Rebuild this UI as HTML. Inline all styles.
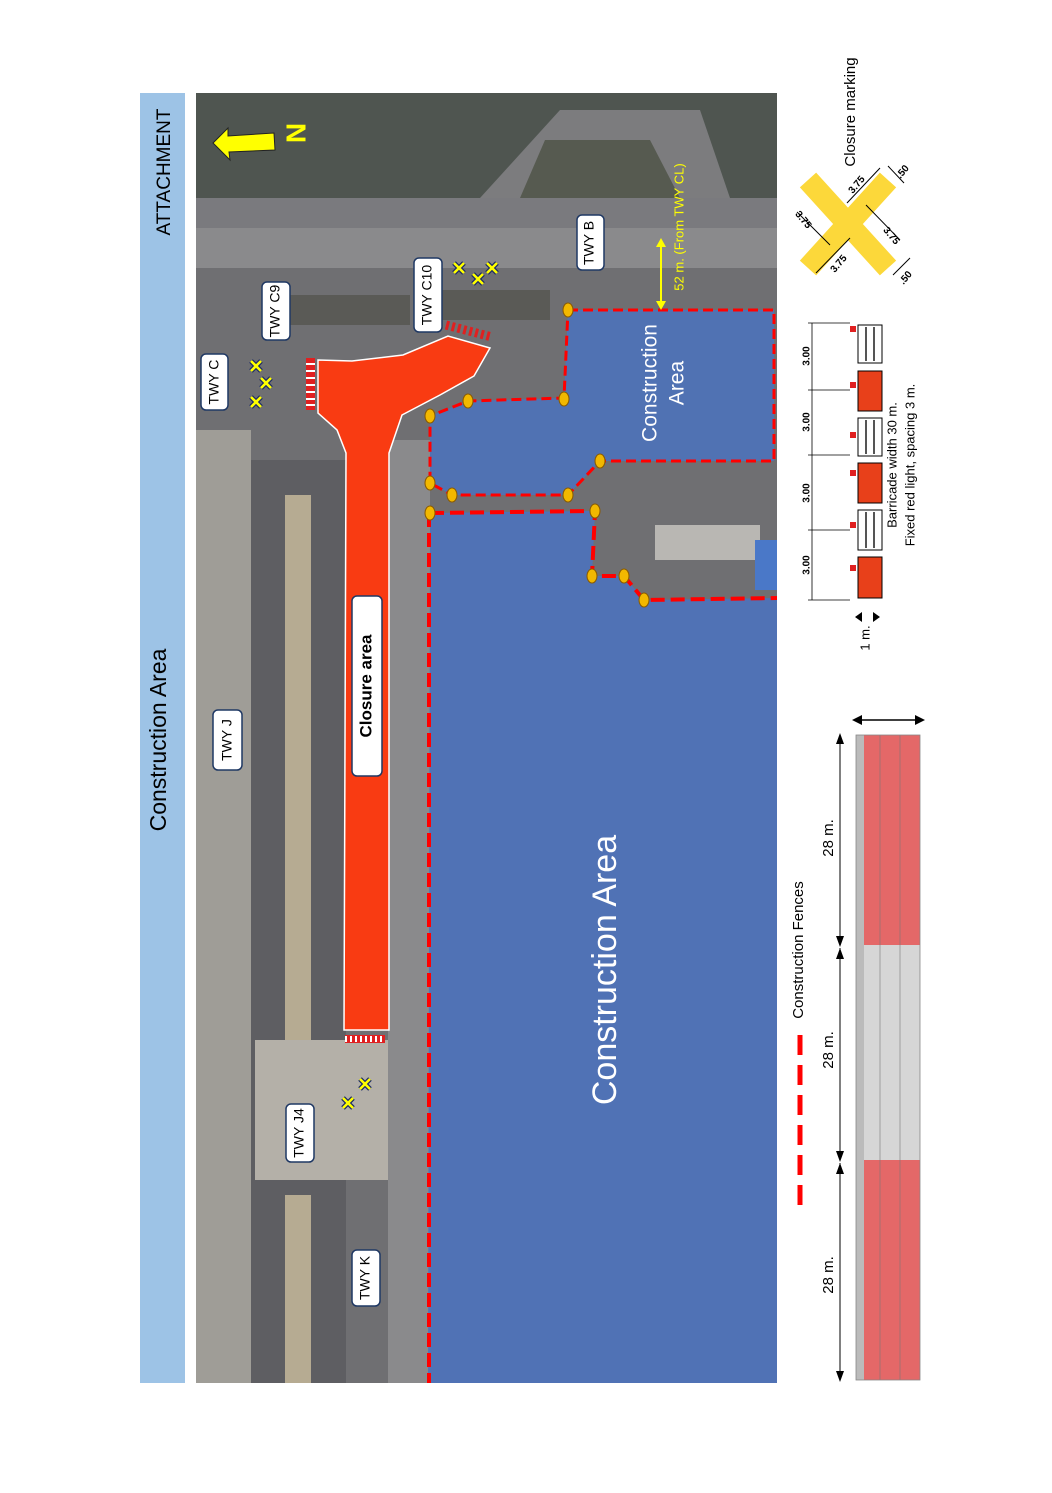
<!DOCTYPE html>
<html><head><meta charset="utf-8"><style>
html,body{margin:0;padding:0;background:#fff;}
svg{display:block;font-family:"Liberation Sans",sans-serif;}
</style></head><body>
<svg width="1052" height="1493" viewBox="0 0 1052 1493" xmlns="http://www.w3.org/2000/svg">
<defs>
<g id="xm"><path d="M-5 -5 L5 5 M5 -5 L-5 5" stroke="#1a2a6a" stroke-width="5"/><path d="M-5 -5 L5 5 M5 -5 L-5 5" stroke="#ffff00" stroke-width="2.6"/></g>
</defs>
<rect width="1052" height="1493" fill="#fff"/>
<rect x="140" y="93" width="45" height="1290" fill="#9dc3e6"/>
<text transform="rotate(-90 165 172)" x="165" y="172" text-anchor="middle" dominant-baseline="middle" font-size="19" fill="#000">ATTACHMENT</text>
<text transform="rotate(-90 160 740)" x="160" y="740" text-anchor="middle" dominant-baseline="middle" font-size="23" fill="#000">Construction Area</text>

<rect x="196" y="93" width="581" height="1290" fill="#6f6f72"/>
<rect x="196" y="93" width="581" height="105" fill="#4f5550"/>
<rect x="196" y="198" width="581" height="30" fill="#7a7a7e"/>
<rect x="196" y="228" width="581" height="40" fill="#8a8a8c"/>
<path d="M480 198 L560 110 L700 110 L730 198 Z" fill="#7c7c7e"/>
<path d="M520 198 L545 140 L650 140 L680 198 Z" fill="#565a50"/>
<rect x="196" y="430" width="55" height="953" fill="#9f9d97"/>
<rect x="251" y="460" width="95" height="923" fill="#5e5e62"/>
<rect x="285" y="495" width="26" height="545" fill="#b6ab92"/>
<rect x="285" y="1195" width="26" height="188" fill="#b6ab92"/>
<rect x="255" y="1040" width="170" height="140" fill="#b4b0a8"/>
<rect x="388" y="440" width="42" height="943" fill="#8a8a8c"/>
<rect x="440" y="290" width="110" height="30" fill="#5a5a56"/>
<rect x="290" y="295" width="120" height="30" fill="#5a5a56"/>
<rect x="655" y="525" width="105" height="35" fill="#b9b7b3"/>
<rect x="755" y="540" width="22" height="50" fill="#4a78c8"/>

<path d="M430 513 L595 511 L592 576 L624 576 L644 600 L777 598 L777 1383 L428 1383 Z" fill="#4d72ba" fill-opacity="0.93"/>
<path d="M430 513 L595 511 L592 576 L624 576 L644 600 L777 598" fill="none" stroke="#ff0000" stroke-width="4" stroke-dasharray="14 6"/>
<path d="M429 513 L429 1383" fill="none" stroke="#ff0000" stroke-width="4" stroke-dasharray="14 6"/>
<path d="M568 310 L774 310 L774 461 L600 461 L568 495 L452 495 L430 483 L430 416 L468 401 L564 398 Z" fill="#4d72ba" fill-opacity="0.9" stroke="#ff0000" stroke-width="3" stroke-dasharray="10 5"/>
<g fill="#f2b800" stroke="#8a5a00" stroke-width="1">
<ellipse cx="568" cy="310" rx="5" ry="7"/><ellipse cx="564" cy="399" rx="5" ry="7"/><ellipse cx="468" cy="401" rx="5" ry="7"/><ellipse cx="430" cy="416" rx="5" ry="7"/><ellipse cx="430" cy="483" rx="5" ry="7"/><ellipse cx="452" cy="495" rx="5" ry="7"/><ellipse cx="568" cy="495" rx="5" ry="7"/><ellipse cx="600" cy="461" rx="5" ry="7"/><ellipse cx="430" cy="513" rx="5" ry="7"/><ellipse cx="595" cy="511" rx="5" ry="7"/><ellipse cx="592" cy="576" rx="5" ry="7"/><ellipse cx="624" cy="576" rx="5" ry="7"/><ellipse cx="644" cy="600" rx="5" ry="7"/>
</g>

<path d="M318 360 L352 361 L403 355 L448 336 L490 348 L474 376 L440 395 L402 415 L389 453 L389 1030 L344 1030 L346 453 L337 430 L318 413 Z" fill="#f93b12" stroke="#fff" stroke-width="1.5"/>
<rect x="306" y="358" width="9" height="52" fill="#e02020"/>
<g stroke="#fff" stroke-width="2"><line x1="306" y1="364" x2="315" y2="364"/><line x1="306" y1="371" x2="315" y2="371"/><line x1="306" y1="378" x2="315" y2="378"/><line x1="306" y1="385" x2="315" y2="385"/><line x1="306" y1="392" x2="315" y2="392"/><line x1="306" y1="399" x2="315" y2="399"/><line x1="306" y1="405" x2="315" y2="405"/></g>
<line x1="446" y1="325" x2="492" y2="337" stroke="#e02020" stroke-width="9" stroke-dasharray="3 3"/>
<rect x="345" y="1035" width="40" height="8" fill="#e02020"/>
<line x1="345" y1="1039" x2="385" y2="1039" stroke="#fff" stroke-width="6" stroke-dasharray="2 3"/>

<use href="#xm" x="256" y="366"/><use href="#xm" x="266" y="383"/><use href="#xm" x="256" y="402"/>
<use href="#xm" x="459" y="268"/><use href="#xm" x="478" y="279"/><use href="#xm" x="492" y="268"/>
<use href="#xm" x="365" y="1084"/><use href="#xm" x="348" y="1103"/>

<path d="M213 143 L228 128 L228 136 L274 133 L275 150 L229 152 L230 160 Z" fill="#ffff00" stroke="#222" stroke-width="1"/>
<text transform="rotate(-90 298 133)" x="298" y="133" text-anchor="middle" dominant-baseline="middle" font-size="28" font-weight="bold" fill="#ffff00">N</text>

<g font-size="14" text-anchor="middle" dominant-baseline="middle" fill="#000">
<rect x="201" y="354" width="27" height="56" rx="5" fill="#fff" stroke="#1f3864" stroke-width="1.5"/>
<text transform="rotate(-90 215 382)" x="215" y="382">TWY C</text>
<rect x="262" y="282" width="28" height="58" rx="5" fill="#fff" stroke="#1f3864" stroke-width="1.5"/>
<text transform="rotate(-90 276 311)" x="276" y="311">TWY C9</text>
<rect x="414" y="258" width="28" height="74" rx="5" fill="#fff" stroke="#1f3864" stroke-width="1.5"/>
<text transform="rotate(-90 428 295)" x="428" y="295">TWY C10</text>
<rect x="577" y="215" width="27" height="55" rx="5" fill="#fff" stroke="#1f3864" stroke-width="1.5"/>
<text transform="rotate(-90 590 243)" x="590" y="243">TWY B</text>
<rect x="213" y="710" width="29" height="60" rx="5" fill="#fff" stroke="#1f3864" stroke-width="1.5"/>
<text transform="rotate(-90 228 740)" x="228" y="740">TWY J</text>
<rect x="286" y="1104" width="28" height="58" rx="5" fill="#fff" stroke="#1f3864" stroke-width="1.5"/>
<text transform="rotate(-90 300 1133)" x="300" y="1133">TWY J4</text>
<rect x="352" y="1250" width="28" height="56" rx="5" fill="#fff" stroke="#1f3864" stroke-width="1.5"/>
<text transform="rotate(-90 366 1278)" x="366" y="1278">TWY K</text>
<rect x="352" y="596" width="30" height="180" rx="5" fill="#fff" stroke="#1f3864" stroke-width="1.5"/>
<text transform="rotate(-90 367 686)" x="367" y="686" font-weight="bold" font-size="17">Closure area</text>
</g>
<text transform="rotate(-90 607 970)" x="607" y="970" text-anchor="middle" dominant-baseline="middle" font-size="34" fill="#fff">Construction Area</text>
<text transform="rotate(-90 651 383)" x="651" y="383" text-anchor="middle" dominant-baseline="middle" font-size="21" fill="#fff">Construction</text>
<text transform="rotate(-90 678 383)" x="678" y="383" text-anchor="middle" dominant-baseline="middle" font-size="21" fill="#fff">Area</text>
<line x1="661" y1="243" x2="661" y2="305" stroke="#ffff00" stroke-width="2"/>
<path d="M656 247 L661 238 L666 247 Z M656 301 L661 310 L666 301 Z" fill="#ffff00"/>
<text transform="rotate(-90 680 227)" x="680" y="227" text-anchor="middle" dominant-baseline="middle" font-size="13" fill="#ffff00">52 m. (From TWY CL)</text>

<text transform="rotate(-90 851 112)" x="851" y="112" text-anchor="middle" dominant-baseline="middle" font-size="15">Closure marking</text>
<path d="M808 180 L888 268 M888 180 L808 268" stroke="#fcd83a" stroke-width="22"/>
<g font-size="10" font-weight="bold" text-anchor="middle" dominant-baseline="middle">
<text transform="rotate(-50 857 185)" x="857" y="185">3.75</text>
<text transform="rotate(-50 839 264)" x="839" y="264">3.75</text>
<text transform="rotate(50 803 220)" x="803" y="220">3.75</text>
<text transform="rotate(50 891 236)" x="891" y="236">3.75</text>
<text transform="rotate(-50 903 172)" x="903" y="172">.50</text>
<text transform="rotate(-50 906 278)" x="906" y="278">.50</text>
</g>
<g stroke="#000" stroke-width="1" fill="none">
<line x1="847" y1="203" x2="880" y2="168"/><line x1="816" y1="273" x2="850" y2="238"/>
<line x1="797" y1="212" x2="830" y2="245"/><line x1="866" y1="205" x2="900" y2="240"/>
<line x1="888" y1="166" x2="904" y2="183"/><line x1="893" y1="275" x2="910" y2="258"/>
</g>

<g stroke="#000" stroke-width="0.8">
<line x1="812" y1="323" x2="812" y2="600"/>
<line x1="808" y1="323" x2="850" y2="323"/><line x1="808" y1="390" x2="850" y2="390"/><line x1="808" y1="455" x2="850" y2="455"/><line x1="808" y1="530" x2="850" y2="530"/><line x1="808" y1="600" x2="850" y2="600"/>
</g>
<g font-size="10" font-weight="bold" text-anchor="middle" dominant-baseline="middle">
<text transform="rotate(-90 807 356)" x="807" y="356">3.00</text>
<text transform="rotate(-90 807 422)" x="807" y="422">3.00</text>
<text transform="rotate(-90 807 493)" x="807" y="493">3.00</text>
<text transform="rotate(-90 807 565)" x="807" y="565">3.00</text>
</g>
<g stroke="#000" stroke-width="1">
<rect x="858" y="325" width="24" height="38" fill="#fff"/>
<rect x="858" y="371" width="24" height="40" fill="#e8401a"/>
<rect x="858" y="418" width="24" height="38" fill="#fff"/>
<rect x="858" y="463" width="24" height="40" fill="#e8401a"/>
<rect x="858" y="510" width="24" height="40" fill="#fff"/>
<rect x="858" y="557" width="24" height="41" fill="#e8401a"/>
</g>
<g stroke="#555" stroke-width="2">
<line x1="866" y1="327" x2="866" y2="361"/><line x1="874" y1="327" x2="874" y2="361"/>
<line x1="866" y1="420" x2="866" y2="454"/><line x1="874" y1="420" x2="874" y2="454"/>
<line x1="866" y1="512" x2="866" y2="548"/><line x1="874" y1="512" x2="874" y2="548"/>
</g>
<g fill="#e02020"><rect x="850" y="326" width="6" height="6"/><rect x="850" y="382" width="6" height="6"/><rect x="850" y="432" width="6" height="6"/><rect x="850" y="470" width="6" height="6"/><rect x="850" y="522" width="6" height="6"/><rect x="850" y="565" width="6" height="6"/></g>
<text transform="rotate(-90 893 465)" x="893" y="465" text-anchor="middle" dominant-baseline="middle" font-size="13">Barricade width 30 m.</text>
<text transform="rotate(-90 911 465)" x="911" y="465" text-anchor="middle" dominant-baseline="middle" font-size="13">Fixed red light, spacing 3 m.</text>
<text transform="rotate(-90 866 638)" x="866" y="638" text-anchor="middle" dominant-baseline="middle" font-size="13">1 m.</text>
<path d="M855 617 L862 612 L862 622 Z M880 617 L873 612 L873 622 Z" fill="#000"/>

<line x1="800" y1="1035" x2="800" y2="1210" stroke="#ff0000" stroke-width="5" stroke-dasharray="20 10"/>
<text transform="rotate(-90 799 950)" x="799" y="950" text-anchor="middle" dominant-baseline="middle" font-size="15">Construction Fences</text>

<rect x="856" y="735" width="64" height="210" fill="#e46868"/>
<rect x="856" y="945" width="64" height="215" fill="#d6d6d6"/>
<rect x="856" y="1160" width="64" height="220" fill="#e46868"/>
<rect x="856" y="735" width="8" height="645" fill="#bbb"/>
<g stroke="#777" stroke-width="0.6"><line x1="880" y1="735" x2="880" y2="1380"/><line x1="900" y1="735" x2="900" y2="1380"/></g>
<rect x="856" y="735" width="64" height="645" fill="none" stroke="#888" stroke-width="0.8"/>
<line x1="855" y1="720" x2="922" y2="720" stroke="#000" stroke-width="1.5"/>
<path d="M852 720 L862 715 L862 725 Z M925 720 L915 715 L915 725 Z" fill="#000"/>
<g stroke="#000" stroke-width="1">
<line x1="840" y1="735" x2="840" y2="945"/><line x1="840" y1="948" x2="840" y2="1160"/><line x1="840" y1="1163" x2="840" y2="1380"/>
</g>
<path d="M836 744 L840 733 L844 744 Z M836 936 L840 947 L844 936 Z M836 959 L840 948 L844 959 Z M836 1151 L840 1162 L844 1151 Z M836 1174 L840 1163 L844 1174 Z M836 1371 L840 1382 L844 1371 Z" fill="#000"/>
<g font-size="15" text-anchor="middle" dominant-baseline="middle">
<text transform="rotate(-90 829 838)" x="829" y="838">28 m.</text>
<text transform="rotate(-90 829 1050)" x="829" y="1050">28 m.</text>
<text transform="rotate(-90 829 1275)" x="829" y="1275">28 m.</text>
</g>
</svg>
</body></html>
